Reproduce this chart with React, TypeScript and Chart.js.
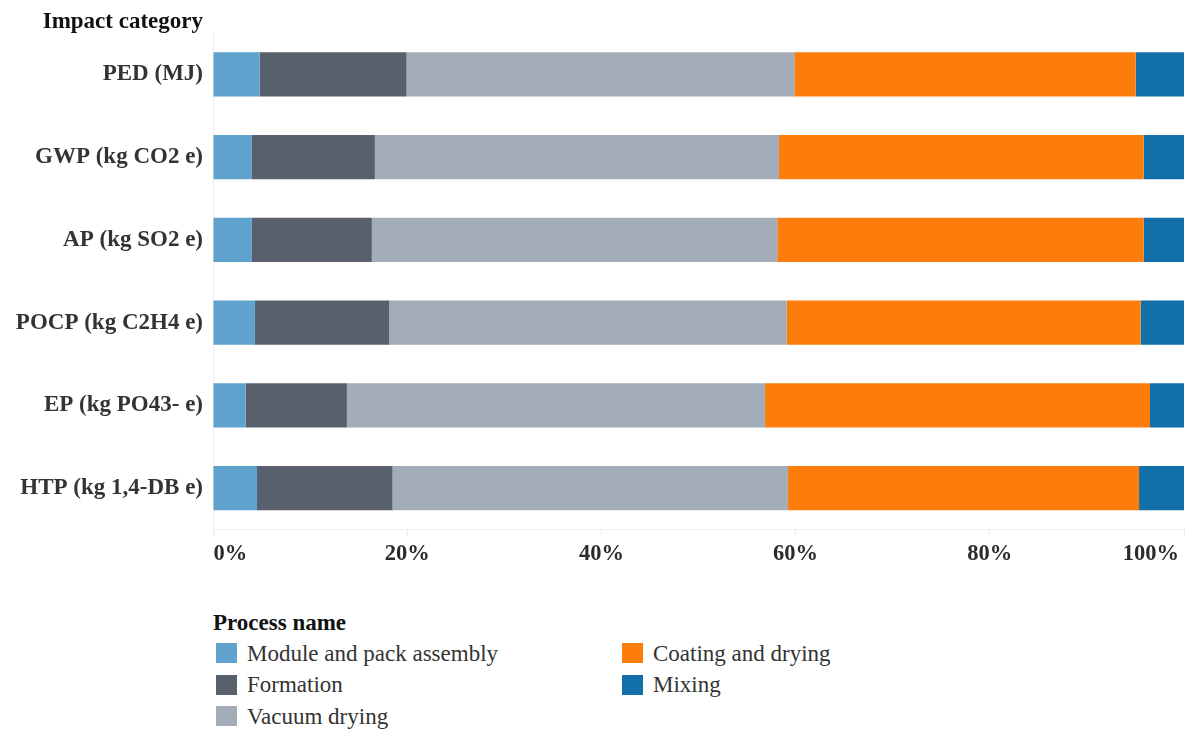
import React, { useEffect, useRef } from "react";
import { Chart, registerables } from "chart.js";

Chart.register(...registerables);

const categories = [
  "PED (MJ)",
  "GWP (kg CO2 e)",
  "AP (kg SO2 e)",
  "POCP (kg C2H4 e)",
  "EP (kg PO43- e)",
  "HTP (kg 1,4-DB e)",
];

const processNames = [
  "Module and pack assembly",
  "Formation",
  "Vacuum drying",
  "Coating and drying",
  "Mixing",
];

const processColors = ["#5fa2ce", "#57606c", "#a3acb9", "#fc7d0b", "#1170aa"];

const moduleValues = [4.8, 4.01, 4.01, 4.32, 3.36, 4.53];
const formationValues = [15.13, 12.66, 12.35, 13.83, 10.43, 13.96];
const vacuumValues = [39.93, 41.62, 41.75, 40.93, 43.05, 40.72];
const coatingValues = [35.17, 37.56, 37.74, 36.46, 39.66, 36.16];
const mixingValues = [4.97, 4.15, 4.15, 4.46, 3.5, 4.63];

const seriesValues = [moduleValues, formationValues, vacuumValues, coatingValues, mixingValues];

const xTickValues = [0, 20, 40, 60, 80, 100];

const SERIF = '"Liberation Serif", "Times New Roman", serif';

const overlayPlugin = {
  id: "overlayText",
  afterDraw(chart: any) {
    const ctx = chart.ctx;
    const xScale = chart.scales.x;
    ctx.save();
    // axis title
    ctx.font = `bold 23px ${SERIF}`;
    ctx.fillStyle = "#111111";
    ctx.textAlign = "right";
    ctx.textBaseline = "alphabetic";
    ctx.fillText("Impact category", 203, 28);
    // x tick labels
    ctx.font = `bold 22.5px ${SERIF}`;
    ctx.fillStyle = "#2b2b2b";
    ctx.textBaseline = "middle";
    xTickValues.forEach((v, i) => {
      const px = xScale.getPixelForValue(v);
      let align: CanvasTextAlign = "center";
      let x = px;
      if (i === 0) {
        align = "left";
        x = px + 0.5;
      } else if (i === xTickValues.length - 1) {
        align = "right";
        x = px - 5;
      }
      ctx.textAlign = align;
      ctx.fillText(`${v}%`, x, 554);
    });
    ctx.restore();
  },
};

export default function App() {
  const canvasRef = useRef<HTMLCanvasElement | null>(null);

  useEffect(() => {
    if (!canvasRef.current) return;
    const chart = new Chart(canvasRef.current, {
      type: "bar",
      data: {
        labels: categories,
        datasets: processNames.map((name, i) => ({
          label: name,
          data: seriesValues[i],
          backgroundColor: processColors[i],
          borderWidth: 0,
          categoryPercentage: 1,
          barPercentage: 0.532,
        })),
      },
      options: {
        indexAxis: "y",
        animation: false,
        responsive: true,
        maintainAspectRatio: false,
        layout: { padding: { top: 33, right: 5, bottom: 63.5, left: 0 } },
        plugins: {
          legend: { display: false },
          tooltip: { enabled: false },
        },
        scales: {
          x: {
            stacked: true,
            min: 0,
            max: 100,
            ticks: { display: false, stepSize: 20 },
            grid: {
              drawOnChartArea: false,
              drawTicks: true,
              tickLength: 7,
              color: "#ececec",
            },
            border: { display: true, color: "#ececec" },
          },
          y: {
            stacked: true,
            afterFit: (scale: any) => {
              scale.width = 213;
            },
            ticks: {
              color: "#333333",
              padding: 10,
              font: { family: SERIF, size: 23, weight: "bold" },
            },
            grid: { display: false, drawTicks: false },
            border: { display: true, color: "#ececec" },
          },
        },
      },
      plugins: [overlayPlugin],
    } as any);
    return () => chart.destroy();
  }, []);

  const col1 = [0, 1, 2];
  const col2 = [3, 4];

  const item = (i: number) => (
    <div
      key={i}
      style={{ display: "flex", alignItems: "center", height: 31.5, lineHeight: "31.5px" }}
    >
      <span
        style={{
          display: "inline-block",
          width: 21,
          height: 20,
          background: processColors[i],
          marginLeft: 3,
          marginRight: 10,
        }}
      />
      <span style={{ fontSize: 23, color: "#333333" }}>{processNames[i]}</span>
    </div>
  );

  return (
    <div
      style={{
        position: "absolute",
        left: 0,
        top: 0,
        width: 1189,
        height: 731,
        background: "#ffffff",
        fontFamily: SERIF,
      }}
    >
      <div style={{ position: "absolute", left: 0, top: 0, width: 1189, height: 600 }}>
        <canvas ref={canvasRef} />
      </div>
      <div style={{ position: "absolute", left: 213, top: 610 }}>
        <div
          style={{
            fontWeight: "bold",
            fontSize: 23,
            lineHeight: "26px",
            color: "#111111",
            marginBottom: 1.5,
          }}
        >
          Process name
        </div>
        <div style={{ display: "flex" }}>
          <div style={{ width: 406 }}>{col1.map(item)}</div>
          <div>{col2.map(item)}</div>
        </div>
      </div>
    </div>
  );
}
